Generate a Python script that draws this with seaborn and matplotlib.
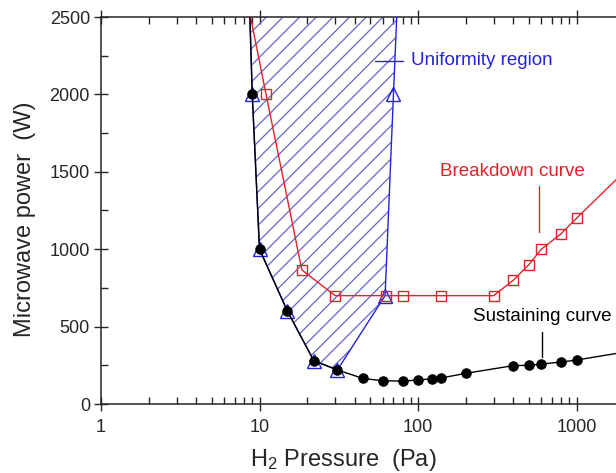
import numpy as np
import pandas as pd
import matplotlib
matplotlib.use("Agg")
import matplotlib.pyplot as plt
from matplotlib.ticker import MultipleLocator, LogLocator, FixedLocator, FixedFormatter, NullFormatter
import seaborn as sns

# ---------------- data ----------------
# sustaining curve (black filled circles)
sus_p = [8.4, 9, 10, 15, 22, 31, 45, 60, 80, 100, 122, 140, 200, 400, 500, 600, 800, 1000, 2000]
sus_w = [3000, 2000, 1000, 600, 280, 220, 165, 150, 148, 155, 163, 168, 198, 248, 250, 258, 271, 284, 335]

# breakdown curve (red open squares)
brk_p = [7, 11, 18.5, 30, 63, 80, 140, 300, 400, 500, 600, 800, 1000, 2000]
brk_w = [3000, 2000, 866, 700, 700, 700, 700, 700, 800, 900, 1000, 1100, 1200, 1500]

# uniformity region boundary (blue open triangles)
uni_p = [8.4, 9, 10, 15, 22, 31, 62, 70, 77]
uni_w = [3000, 2000, 1000, 600, 280, 220, 700, 2000, 3000]

RED = "#e8202a"
BLUE = "#2323d8"

sns.set_style("ticks")
plt.rcParams["font.family"] = ["Liberation Sans", "DejaVu Sans"]
plt.rcParams["mathtext.default"] = "regular"
plt.rcParams["hatch.linewidth"] = 0.9

fig = plt.figure(figsize=(6.16, 4.73), dpi=100)
# axes runs past the right edge of the figure (cropped original)
ax = fig.add_axes([101 / 616, 69 / 473, 3.5 * 158.5 / 616, 387 / 473])

# hatched uniformity region
ax.fill(uni_p, uni_w, facecolor="none", edgecolor="#6464cc", linewidth=0, hatch="//", zorder=1)

df_uni = pd.DataFrame({"p": uni_p, "w": uni_w})
sns.lineplot(data=df_uni, x="p", y="w", sort=False, estimator=None, color=BLUE,
             linewidth=1.0, marker="^", markersize=9.5, markerfacecolor="none",
             markeredgecolor=BLUE, markeredgewidth=1.0, ax=ax, zorder=3)

df_brk = pd.DataFrame({"p": brk_p, "w": brk_w})
sns.lineplot(data=df_brk, x="p", y="w", sort=False, estimator=None, color=RED,
             linewidth=1.0, marker="s", markersize=7.5, markerfacecolor="none",
             markeredgecolor=RED, markeredgewidth=1.0, ax=ax, zorder=4)

df_sus = pd.DataFrame({"p": sus_p, "w": sus_w})
sns.lineplot(data=df_sus, x="p", y="w", sort=False, estimator=None, color="black",
             linewidth=1.0, marker="o", markersize=6.8, markerfacecolor="black",
             markeredgecolor="black", ax=ax, zorder=5)

ax.set_xscale("log")
ax.set_xlim(1, 10 ** 3.5)
ax.set_ylim(0, 2500)

ax.xaxis.set_major_locator(FixedLocator([1, 10, 100, 1000]))
ax.xaxis.set_major_formatter(FixedFormatter(["1", "10", "100", "1000"]))
ax.xaxis.set_minor_locator(LogLocator(base=10, subs=np.arange(2, 10)))
ax.xaxis.set_minor_formatter(NullFormatter())
ax.yaxis.set_major_locator(MultipleLocator(500))
ax.yaxis.set_minor_locator(MultipleLocator(250))

ax.tick_params(which="major", direction="inout", length=10, width=1.0, top=True,
               labelsize=13, pad=3)
ax.tick_params(which="minor", direction="in", length=5, width=1.0, top=True)
ax.tick_params(axis="x", which="major", pad=6)

for s in ["left", "bottom", "top"]:
    ax.spines[s].set_linewidth(1.1)

ax.set_xlabel("H$_2$ Pressure  (Pa)", fontsize=17, labelpad=8)
ax.set_ylabel("Microwave power  (W)", fontsize=17, labelpad=10)
# labels centred on the visible part of the (cropped) axes
ax.xaxis.label.set_x(0.436)
ax.yaxis.label.set_y(0.478)

# annotations
ax.plot([53.5, 80.6], [2216, 2216], color=BLUE, linewidth=1.0, zorder=6)
ax.text(90, 2216, "Uniformity region", color=BLUE, fontsize=13.5, va="center", ha="left")

ax.plot([582, 582], [1111, 1408], color=RED, linewidth=1.0)
ax.text(392, 1499, "Breakdown curve", color=RED, fontsize=13.5, va="center", ha="center")

ax.plot([608, 608], [306, 467], color="black", linewidth=1.0)
ax.text(606, 564, "Sustaining curve", color="black", fontsize=13.5, va="center", ha="center")

fig.savefig("out.png", dpi=100)
